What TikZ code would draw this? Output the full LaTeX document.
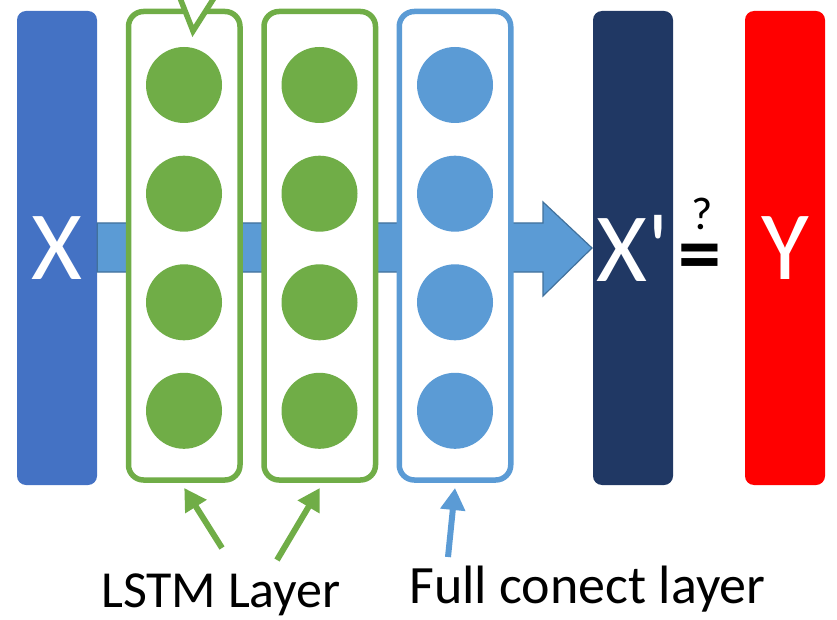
\documentclass[tikz,border=0pt]{standalone}
\usepackage{fontspec}
\setmainfont{Carlito}[Ligatures=TeXOff]
\usetikzlibrary{arrows.meta}

\definecolor{xblue}{HTML}{4472C4}
\definecolor{lgreen}{HTML}{70AD47}
\definecolor{lblue}{HTML}{5B9BD5}
\definecolor{edgeblue}{HTML}{41719C}
\definecolor{navy}{HTML}{203864}

\begin{document}
\begin{tikzpicture}[x=1pt,y=-1pt,
    bar/.style={rounded corners=9pt, minimum width=80pt, minimum height=474pt, inner sep=0pt, text=white, font=\fontsize{98}{100}\selectfont},
    layer/.style={draw, line width=5.5pt, fill=white, rounded corners=15pt, minimum width=111.5pt, minimum height=468.5pt, outer sep=8pt},
    unit/.style={circle, minimum size=76pt, inner sep=0pt},
    pointer/.style={line width=6pt, -{Triangle[length=22pt,width=24pt]}},
    caption/.style={anchor=base, font=\fontsize{52}{60}\selectfont}]
            \useasboundingbox (0,0) rectangle (837,620);
            % input, output and target
            \node[bar, fill=xblue] (X) at (57,248) {X};
            \node[bar, fill=navy] (Xp) at (633,248) {X'};
            \node[bar, fill=red] (Y) at (785,248) {Y};
            % big arrow behind the layers
            \draw[draw=edgeblue, line width=1.2pt, fill=lblue] (X.east |- 0,223) -- (543,223) -- (543,202) -- (592,248) -- (543,296) -- (543,272) -- (X.east |- 0,272) -- cycle;
            % layers
            \node[layer, draw=lgreen] (lstmA) at (184.25,245.75) {};
            \node[layer, draw=lgreen] (lstmB) at (319.75,245.75) {};
            \node[layer, draw=lblue] (fc) at (455,245.75) {};
            \node[unit, fill=lgreen] (a1) at (184,85) {};
            \node[unit, fill=lgreen] (a2) at (184,193.7) {};
            \node[unit, fill=lgreen] (a3) at (184,302.3) {};
            \node[unit, fill=lgreen] (a4) at (184,410.8) {};
            \node[unit, fill=lgreen] (b1) at (319.5,85) {};
            \node[unit, fill=lgreen] (b2) at (319.5,193.7) {};
            \node[unit, fill=lgreen] (b3) at (319.5,302.3) {};
            \node[unit, fill=lgreen] (b4) at (319.5,410.8) {};
            \node[unit, fill=lblue] (c1) at (455,85) {};
            \node[unit, fill=lblue] (c2) at (455,193.7) {};
            \node[unit, fill=lblue] (c3) at (455,302.3) {};
            \node[unit, fill=lblue] (c4) at (455,410.8) {};
            % loop mark on top of the first layer
            \fill[white] (180,-2) -- (193,31) -- (214,-2) -- cycle;
            \draw[lgreen, line width=5.5pt] (180,-2) -- (193,31) -- (214,-2);
            % comparison
            \node[inner sep=0pt, font=\bfseries\fontsize{86}{86}\selectfont] (eq) at (699.5,263) {=};
            \node[inner sep=0pt, font=\fontsize{46}{50}\selectfont] (q) at (702,214) {?};
            % labels
            \node[caption] (lstm) at (221,607) {LSTM Layer};
            \node[caption, font=\fontsize{54}{60}\selectfont] (full) at (587.5,603) {Full conect layer};
            \coordinate (tA) at (222,548);
            \coordinate (tB) at (277,560);
            \coordinate (tC) at (448,557);
            \draw[pointer, lgreen] (tA) -- (lstmA.south);
            \draw[pointer, lgreen] (tB) -- (lstmB.south);
            \draw[pointer, lblue] (tC) -- (fc.south);
        \end{tikzpicture}
\end{document}
